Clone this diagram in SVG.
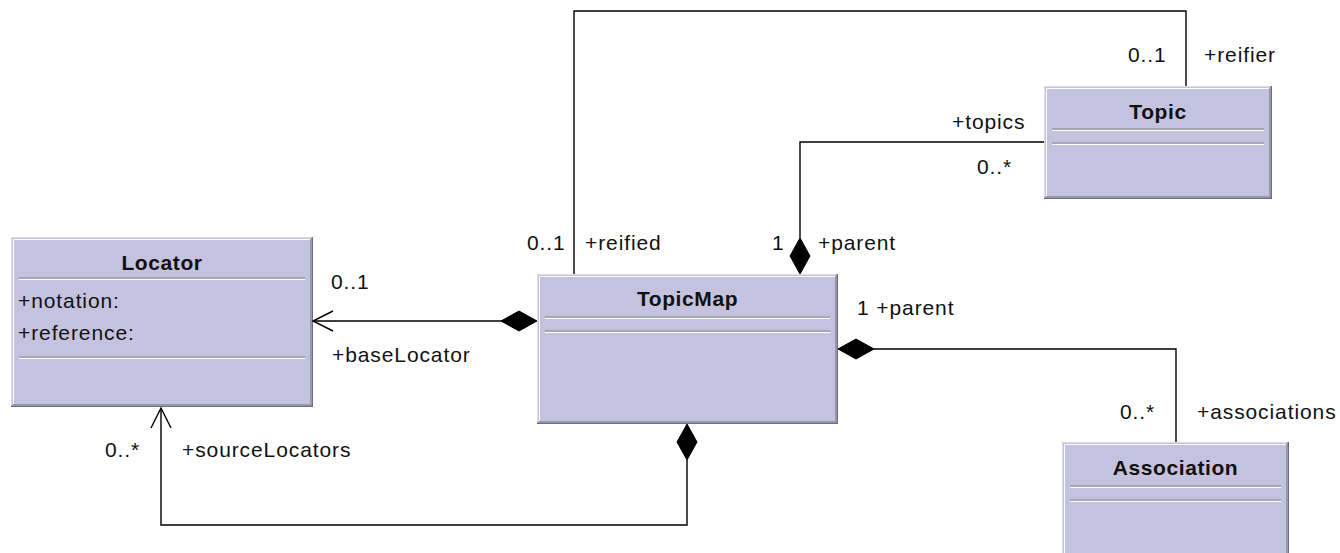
<svg xmlns="http://www.w3.org/2000/svg" width="1340" height="553" viewBox="0 0 1340 553">
  <style>
    text { font-family: "Liberation Sans", Arial, sans-serif; font-size: 21px; fill: #111; letter-spacing: 0.9px; }
    .title { font-weight: bold; text-anchor: middle; letter-spacing: 0.6px; }
    .fill { fill: #c4c2de; }
    .hl-out { fill: none; stroke: #dddbee; stroke-width: 1; }
    .hl-in { fill: none; stroke: #ffffff; stroke-width: 1; }
    .sh-out { fill: none; stroke: #6c6c7c; stroke-width: 1.5; }
    .sh-in { fill: none; stroke: #9896ae; stroke-width: 1; }
    .sep-d { stroke: #8a889e; stroke-width: 1.2; }
    .sep-l { stroke: #ffffff; stroke-width: 1.2; }
    .edge { fill: none; stroke: #000; stroke-width: 1.4; }
    .diamond { fill: #000; stroke: #000; stroke-width: 1; }
  </style>

  <!-- UML class: Locator -->
  <g id="locator" transform="translate(11,237)">
    <rect class="fill" x="0" y="0" width="302" height="170"/>
    <path class="hl-out" d="M0.5,170 V0.5 H302"/>
    <path class="hl-in" d="M2.5,168 V2.5 H300"/>
    <path class="sh-out" d="M301.25,0 V169.25 H0"/>
    <path class="sh-in" d="M299.5,2 V167.5 H2"/>
    <text class="title" x="151" y="33">Locator</text>
    <line class="sep-d" x1="8" y1="41" x2="294" y2="41"/>
    <line class="sep-l" x1="8" y1="42.5" x2="294" y2="42.5"/>
    <text x="7" y="71">+notation:</text>
    <text x="7" y="103">+reference:</text>
    <line class="sep-d" x1="8" y1="120" x2="294" y2="120"/>
    <line class="sep-l" x1="8" y1="121.5" x2="294" y2="121.5"/>
  </g>

  <!-- UML class: TopicMap -->
  <g id="topicmap" transform="translate(537,274)">
    <rect class="fill" x="0" y="0" width="301" height="150"/>
    <path class="hl-out" d="M0.5,150 V0.5 H301"/>
    <path class="hl-in" d="M2.5,148 V2.5 H299"/>
    <path class="sh-out" d="M300.25,0 V149.25 H0"/>
    <path class="sh-in" d="M298.5,2 V147.5 H2"/>
    <text class="title" x="150.5" y="32">TopicMap</text>
    <line class="sep-d" x1="8" y1="43" x2="293" y2="43"/>
    <line class="sep-l" x1="8" y1="44.5" x2="293" y2="44.5"/>
    <line class="sep-d" x1="8" y1="57" x2="293" y2="57"/>
    <line class="sep-l" x1="8" y1="58.5" x2="293" y2="58.5"/>
  </g>

  <!-- UML class: Topic -->
  <g id="topic" transform="translate(1044,86)">
    <rect class="fill" x="0" y="0" width="228" height="113"/>
    <path class="hl-out" d="M0.5,113 V0.5 H228"/>
    <path class="hl-in" d="M2.5,111 V2.5 H226"/>
    <path class="sh-out" d="M227.25,0 V112.25 H0"/>
    <path class="sh-in" d="M225.5,2 V110.5 H2"/>
    <text class="title" x="114" y="33">Topic</text>
    <line class="sep-d" x1="8" y1="43" x2="220" y2="43"/>
    <line class="sep-l" x1="8" y1="44.5" x2="220" y2="44.5"/>
    <line class="sep-d" x1="8" y1="57" x2="220" y2="57"/>
    <line class="sep-l" x1="8" y1="58.5" x2="220" y2="58.5"/>
  </g>

  <!-- UML class: Association (runs past the bottom edge) -->
  <g id="association" transform="translate(1062,442)">
    <rect class="fill" x="0" y="0" width="227" height="130"/>
    <path class="hl-out" d="M0.5,130 V0.5 H227"/>
    <path class="hl-in" d="M2.5,130 V2.5 H225"/>
    <path class="sh-out" d="M226.25,0 V130"/>
    <path class="sh-in" d="M224.5,2 V130"/>
    <text class="title" x="113.5" y="33">Association</text>
    <line class="sep-d" x1="8" y1="44" x2="219" y2="44"/>
    <line class="sep-l" x1="8" y1="45.5" x2="219" y2="45.5"/>
    <line class="sep-d" x1="8" y1="58" x2="219" y2="58"/>
    <line class="sep-l" x1="8" y1="59.5" x2="219" y2="59.5"/>
  </g>

  <!-- Associations between classes -->
  <g id="connectors">
    <!-- TopicMap.baseLocator -> Locator -->
    <path class="edge" d="M313,321 H502"/>
    <path class="edge" d="M333,311 L313,321 L333,331"/>
    <path class="diamond" d="M537,321 L519,311 L501,321 L519,331 Z"/>

    <!-- TopicMap.sourceLocators -> Locator -->
    <path class="edge" d="M161,408 V525 H687 V460"/>
    <path class="edge" d="M151,428 L161,408 L171,428"/>
    <path class="diamond" d="M687,424 L677,442 L687,460 L697,442 Z"/>

    <!-- reified / reifier -->
    <path class="edge" d="M574,274 V11 H1186 V86"/>

    <!-- TopicMap.topics -> Topic -->
    <path class="edge" d="M1044,142 H800 V238"/>
    <path class="diamond" d="M800,238 L790,256 L800,274 L810,256 Z"/>

    <!-- TopicMap.associations -> Association -->
    <path class="edge" d="M874,349 H1176 V442"/>
    <path class="diamond" d="M838,349 L856,339 L874,349 L856,359 Z"/>
  </g>

  <!-- Role names and multiplicities -->
  <g id="labels">
    <text x="331" y="289">0..1</text>
    <text x="332" y="362">+baseLocator</text>
    <text x="105" y="457">0..*</text>
    <text x="182" y="457">+sourceLocators</text>
    <text x="527" y="250">0..1</text>
    <text x="585" y="250">+reified</text>
    <text x="772" y="250">1</text>
    <text x="818" y="250">+parent</text>
    <text x="952" y="129">+topics</text>
    <text x="977" y="174">0..*</text>
    <text x="1128" y="62">0..1</text>
    <text x="1204" y="62">+reifier</text>
    <text x="857" y="315">1 +parent</text>
    <text x="1120" y="419">0..*</text>
    <text x="1197" y="419">+associations</text>
  </g>
</svg>
